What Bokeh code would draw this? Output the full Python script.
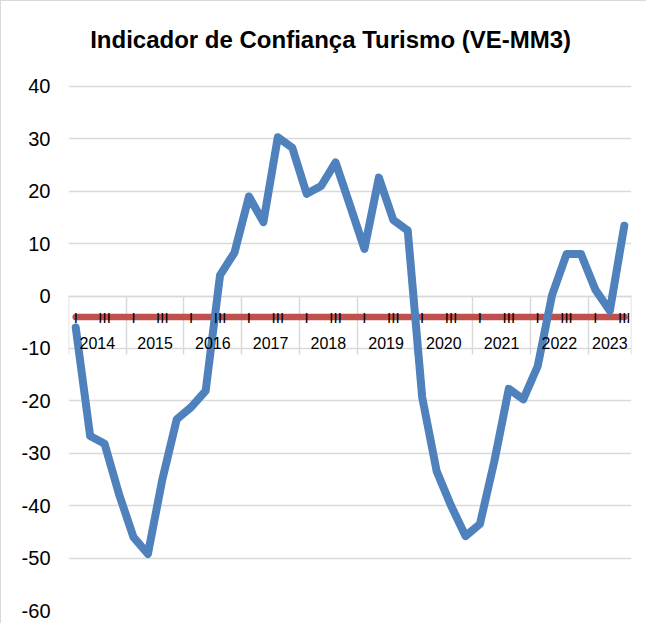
from bokeh.plotting import figure
from bokeh.models import FixedTicker, LinearAxis, Range1d, Label
from bokeh.core.properties import value
from bokeh.embed import file_html
from bokeh.resources import INLINE

# ---- data ----
title_text = "Indicador de Confiança Turismo (VE-MM3)"
years = ["2014", "2015", "2016", "2017", "2018", "2019", "2020", "2021", "2022", "2023"]
quarters_per_year = [4, 4, 4, 4, 4, 4, 4, 4, 4, 3]
quarter_labels = ["I", "", "III", ""]
confianca = [
    -6.0, -26.7, -28.2, -37.8,    # 2014
    -46.0, -49.2, -35.0, -23.5,   # 2015
    -21.2, -18.1, 4.0, 8.3,       # 2016
    19.0, 14.1, 30.3, 28.3,       # 2017
    19.5, 21.0, 25.5, 17.3,       # 2018
    9.0, 22.6, 14.5, 12.5,        # 2019
    -19.3, -33.4, -40.0, -45.8,   # 2020
    -43.5, -31.5, -17.7, -19.7,   # 2021
    -13.4, 0.2, 8.0, 8.0,         # 2022
    1.2, -2.8, 13.4,              # 2023
]
red_level = -4
y_ticks = [-60, -50, -40, -30, -20, -10, 0, 10, 20, 30, 40]
y_tick_labels = ["-60", "-50", "-40", "-30", "-20", "-10", "0", "10", "20", "30", "40"]

FONT = "Liberation Sans"
BLUE = "#4f81bd"
RED = "#c0504d"
GRID = "#d9d9d9"

n = len(confianca)
xs = [i + 0.5 for i in range(n)]

# year boundaries and label positions
bounds = [0]
for c in quarters_per_year:
    bounds.append(bounds[-1] + c)
year_x = [bounds[k] + quarters_per_year[k] / 2 for k in range(len(years))]
q_x, q_text = [], []
for k, c in enumerate(quarters_per_year):
    for q in range(c):
        if quarter_labels[q]:
            q_x.append(bounds[k] + q + 0.5)
            q_text.append(quarter_labels[q])

# the frame extends to the top of the figure so the title can sit inside it
p = figure(
    width=646, height=623,
    x_range=Range1d(0, n), y_range=Range1d(-60, 56.2),
    output_backend="svg", toolbar_location=None,
    x_axis_location=None,
    min_border_left=67, min_border_right=16, min_border_top=0, min_border_bottom=14,
)
p.outline_line_color = None
p.background_fill_color = "white"
p.border_fill_color = "white"

title = Label(x=1.5, y=49.0, x_units="data", y_units="data", text=title_text,
              text_font=FONT, text_font_size="24px", text_font_style="bold",
              text_color="black", text_align="left", text_baseline="middle")
p.add_layout(title)

# y axis
p.yaxis.ticker = FixedTicker(ticks=y_ticks)
p.yaxis.major_label_overrides = {t: s for t, s in zip(y_ticks, y_tick_labels)}
p.yaxis.axis_line_color = None
p.yaxis.major_tick_line_color = None
p.yaxis.minor_tick_line_color = None
p.yaxis.major_tick_out = 0
p.yaxis.major_tick_in = 0
p.yaxis.major_label_standoff = 18
p.yaxis.major_label_text_font = FONT
p.yaxis.major_label_text_font_size = "20px"
p.yaxis.major_label_text_color = "black"

p.ygrid.ticker = FixedTicker(ticks=y_ticks)
p.ygrid.grid_line_color = GRID
p.ygrid.grid_line_width = 1.5
p.xgrid.grid_line_color = None

# category axis crossing at 0
xax = LinearAxis(fixed_location=0, ticker=FixedTicker(ticks=bounds))
xax.axis_line_color = GRID
xax.axis_line_width = 1.5
xax.major_tick_line_color = GRID
xax.major_tick_line_width = 1.5
xax.major_tick_out = 58
xax.major_tick_in = 0
xax.minor_tick_line_color = None
xax.major_label_text_font_size = "0px"
xax.major_label_text_alpha = 0
xax.level = "underlay"
p.add_layout(xax, "below")

# red baseline series
p.line(x=[xs[0], xs[-1]], y=[red_level, red_level], line_color=RED, line_width=6.5,
       line_cap="round")

# blue series
p.line(x=xs, y=confianca, line_color=BLUE, line_width=8, line_join="round", line_cap="round")

# quarter labels
p.text(x=q_x, y=[red_level] * len(q_x), text=q_text, text_font=value(FONT),
       text_font_size="15px", text_align="center", text_baseline="middle", text_color="black")
# year labels
p.text(x=year_x, y=[-9.0] * len(year_x), text=years, text_font=value(FONT),
       text_font_size="16px", text_align="center", text_baseline="middle", text_color="black")

p.styles = {"border-left": "1px solid #d9d9d9", "border-top": "1px solid #d9d9d9"}

open("out.html", "w").write(file_html(p, INLINE))
